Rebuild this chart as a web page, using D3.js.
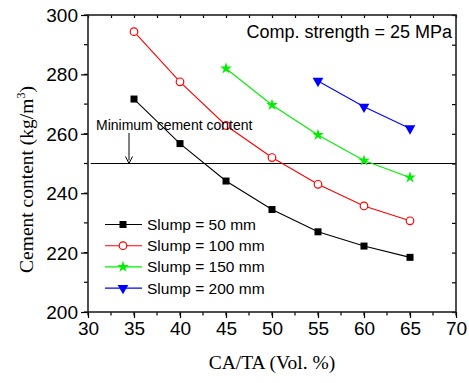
<!DOCTYPE html>
<html><head><meta charset="utf-8">
<script src="https://cdn.jsdelivr.net/npm/d3@7"></script>
<style>body{margin:0;background:#fff}svg{display:block}</style>
</head><body>
<svg id="c" width="469" height="383"></svg>
<script>
const xValues = [35, 40, 45, 50, 55, 60, 65];
const slump50 = [271.7, 256.7, 244.1, 234.5, 227, 222.2, 218.4];
const slump100 = [294.4, 277.5, 262.8, 252, 243, 235.7, 230.7];
const slump150x = [45, 50, 55, 60, 65];
const slump150 = [282, 269.7, 259.6, 251, 245.3];
const slump200x = [55, 60, 65];
const slump200 = [277.8, 269.1, 261.8];
const seriesNames = ["Slump = 50 mm", "Slump = 100 mm", "Slump = 150 mm", "Slump = 200 mm"];
const xTicks = [30, 35, 40, 45, 50, 55, 60, 65, 70];
const yTicks = [200, 220, 240, 260, 280, 300];
const minCement = 250;

const svg = d3.select("#c");
const L = 88, R = 456, T = 15, B = 312;
const x = d3.scaleLinear().domain([30, 70]).range([L, R]);
const y = d3.scaleLinear().domain([200, 300]).range([B, T]);

const series = [
  {name: seriesNames[0], xs: xValues, ys: slump50, color: "#000", sym: "square"},
  {name: seriesNames[1], xs: xValues, ys: slump100, color: "#ff0000", sym: "circle"},
  {name: seriesNames[2], xs: slump150x, ys: slump150, color: "#00ee00", sym: "star"},
  {name: seriesNames[3], xs: slump200x, ys: slump200, color: "#0000ff", sym: "tri"}
];

// minimum line
svg.append("line").attr("x1", x(30.3)).attr("x2", R).attr("y1", y(minCement)).attr("y2", y(minCement))
  .attr("stroke", "#000").attr("stroke-width", 1.2);

function marker(g, s, cx, cy) {
  if (s.sym === "square") {
    g.append("rect").attr("x", cx - 3.5).attr("y", cy - 3.5).attr("width", 7).attr("height", 7).attr("fill", s.color);
  } else if (s.sym === "circle") {
    g.append("circle").attr("cx", cx).attr("cy", cy).attr("r", 3.8).attr("fill", "#fff").attr("stroke", s.color).attr("stroke-width", 1.2);
  } else if (s.sym === "star") {
    g.append("path").attr("transform", `translate(${cx},${cy})`).attr("d", d3.symbol(d3.symbolStar, 42)()).attr("fill", s.color);
  } else {
    g.append("path").attr("transform", `translate(${cx},${cy}) rotate(180)`).attr("d", d3.symbol(d3.symbolTriangle, 50)()).attr("fill", s.color);
  }
}

const line = d3.line().x(d => x(d[0])).y(d => y(d[1]));
series.forEach(s => {
  const pts = s.xs.map((v, i) => [v, s.ys[i]]);
  svg.append("path").attr("d", line(pts)).attr("fill", "none").attr("stroke", s.color).attr("stroke-width", 1.1);
  const g = svg.append("g");
  pts.forEach(p => marker(g, s, x(p[0]), y(p[1])));
});

// annotation
svg.append("text").attr("x", 96).attr("y", 129.5).attr("font-family", "Arial, Liberation Sans, sans-serif")
  .attr("font-size", 14).attr("fill", "#000").text("Minimum cement content");
svg.append("line").attr("x1", 129).attr("x2", 129).attr("y1", 133).attr("y2", y(minCement) - 3).attr("stroke", "#000").attr("stroke-width", 1);
svg.append("path").attr("d", `M125.5,${y(minCement)-7} L129,${y(minCement)} L132.5,${y(minCement)-7}`).attr("fill", "none").attr("stroke", "#000").attr("stroke-width", 1);

svg.append("text").attr("x", 452).attr("y", 38).attr("text-anchor", "end").attr("font-family", "Arial, Liberation Sans, sans-serif")
  .attr("font-size", 18).attr("fill", "#000").text("Comp. strength = 25 MPa");

// legend
series.forEach((s, i) => {
  const ly = 224.5 + i * 21.2;
  const g = svg.append("g");
  g.append("line").attr("x1", 105).attr("x2", 142).attr("y1", ly).attr("y2", ly).attr("stroke", s.color).attr("stroke-width", 1.1);
  marker(g, s, 123, ly);
  g.append("text").attr("x", 147).attr("y", ly + 5.5).attr("font-family", "Arial, Liberation Sans, sans-serif")
    .attr("font-size", 15.5).attr("fill", "#000").text(s.name);
});

// axes
const axFont = "Arial, Liberation Sans, sans-serif";
const xMinor = d3.range(30, 70.01, 2.5);
const yMinor = d3.range(200, 300.01, 10);
const xAxis = svg.append("g").attr("transform", `translate(0,${B})`)
  .call(d3.axisBottom(x).tickValues(xTicks).tickSize(6).tickPadding(4).tickFormat(d3.format("d")));
xAxis.selectAll("text").attr("font-family", axFont).attr("font-size", 19).attr("fill", "#000");
xAxis.append("g").selectAll("line").data(xMinor).join("line")
  .attr("x1", d => x(d)).attr("x2", d => x(d)).attr("y1", 0).attr("y2", 3.5).attr("stroke", "#000");
const yAxis = svg.append("g").attr("transform", `translate(${L},0)`)
  .call(d3.axisLeft(y).tickValues(yTicks).tickSize(7).tickPadding(3).tickFormat(d3.format("d")));
yAxis.selectAll("text").attr("font-family", axFont).attr("font-size", 19).attr("fill", "#000").attr("dy", "0.34em");
yAxis.append("g").selectAll("line").data(yMinor).join("line")
  .attr("y1", d => y(d)).attr("y2", d => y(d)).attr("x1", 0).attr("x2", -4).attr("stroke", "#000");
// top & right mirrored ticks (inward)
const topAxis = svg.append("g").attr("transform", `translate(0,${T})`)
  .call(d3.axisTop(x).tickValues(xMinor).tickSize(-3).tickFormat(""));
const rightAxis = svg.append("g").attr("transform", `translate(${R},0)`)
  .call(d3.axisRight(y).tickValues(yMinor).tickSize(-4).tickFormat(""));
[xAxis, yAxis, topAxis, rightAxis].forEach(a => {
  a.select(".domain").remove();
  a.selectAll("line").attr("stroke", "#000").attr("stroke-width", 1.2);
});
svg.append("rect").attr("x", L).attr("y", T).attr("width", R - L).attr("height", B - T)
  .attr("fill", "none").attr("stroke", "#222").attr("stroke-width", 1.6);

// axis titles
svg.append("text").attr("x", (L + R) / 2).attr("y", 369).attr("text-anchor", "middle")
  .attr("font-family", "Liberation Serif, Times New Roman, serif").attr("font-size", 19.5).attr("fill", "#000")
  .text("CA/TA (Vol. %)");
const yl = svg.append("text").attr("transform", `translate(33,${(T + B) / 2 + 16}) rotate(-90)`).attr("text-anchor", "middle")
  .attr("font-family", "Liberation Serif, Times New Roman, serif").attr("font-size", 19.5).attr("fill", "#000");
yl.append("tspan").text("Cement content (kg/m");
yl.append("tspan").attr("font-size", 12).attr("dy", -8).text("3");
yl.append("tspan").attr("dy", 8).text(")");
</script>
</body></html>
